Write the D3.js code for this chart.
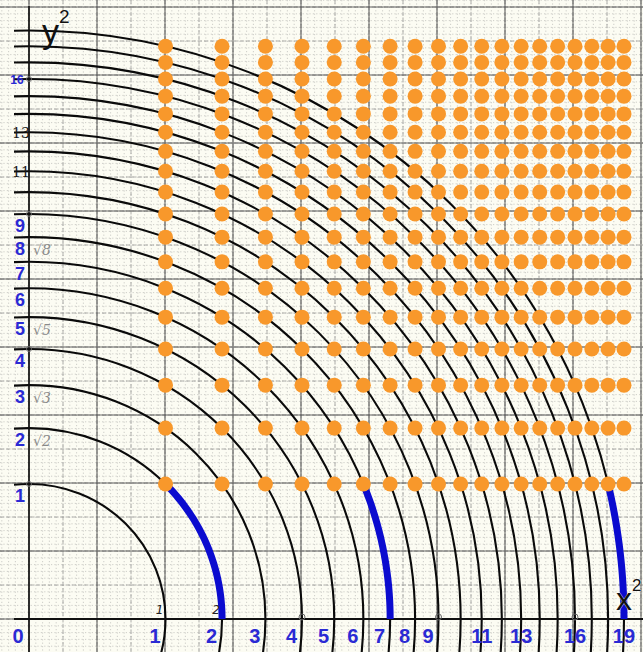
<!DOCTYPE html>
<html>
<head>
<meta charset="utf-8">
<script src="https://cdn.jsdelivr.net/npm/d3@7/dist/d3.min.js"></script>
<style>
  html, body { margin: 0; padding: 0; background: #fff; }
  svg { display: block; }
</style>
</head>
<body>
<svg id="chart" width="643" height="652"></svg>
<script>
// Squared coordinates of the lattice points: x² = 1..19, y² = 1..18
const xSquares = [1, 2, 3, 4, 5, 6, 7, 8, 9, 10, 11, 12, 13, 14, 15, 16, 17, 18, 19];
const ySquares = [1, 2, 3, 4, 5, 6, 7, 8, 9, 10, 11, 12, 13, 14, 15, 16, 17, 18];
// Level curves x² + y² = k
const circleLevels = [1, 2, 3, 4, 5, 6, 7, 8, 9, 10, 11, 12, 13, 14, 15, 16, 17, 18, 19];
// Highlighted arcs: from (x² = k-1, y² = 1) down to (x² = k, y² = 0)
const highlightLevels = [2, 7, 19];
// Axis labels
const xTickLabels = [0, 1, 2, 3, 4, 5, 6, 7, 8, 9, 11, 13, 16, 19];
const yTickLabels = [1, 2, 3, 4, 5, 6, 7, 8, 9];
const yHandLabels = [11, 13];
const ySmallLabels = [16];
const rootNotes = ["√8", "√5", "√3", "√2"];
const rootNoteValues = [8, 5, 3, 2];
const perfectSquares = [1, 4, 9, 16];

const W = 643, H = 652;
const svg = d3.select("#chart");

// Positions grow with the square root of the squared coordinate
const x = d3.scalePow().exponent(0.5).domain([0, 1]).range([29, 165.5]);
const y = d3.scalePow().exponent(0.5).domain([0, 1]).range([619, 484]);
const x0 = x(0), y0 = y(0);

// Paper
svg.append("rect").attr("width", W).attr("height", H).attr("fill", "#fcfcf3");

// Graph-paper grid anchored at the origin
const grid = svg.append("g");
function gridLines(step, style) {
  const xs = d3.range(Math.ceil(-x0 / step), Math.floor((W - x0) / step) + 1).map(i => x0 + i * step);
  const ys = d3.range(Math.ceil((y0 - H) / step), Math.floor(y0 / step) + 1).map(i => y0 - i * step);
  const g = grid.append("g").attr("stroke", style.color).attr("stroke-width", style.width)
    .attr("stroke-dasharray", style.dash || null).attr("opacity", style.opacity || 1);
  g.selectAll("line.v").data(xs).join("line").attr("class", "v")
    .attr("x1", d => d).attr("x2", d => d).attr("y1", 0).attr("y2", H);
  g.selectAll("line.h").data(ys).join("line").attr("class", "h")
    .attr("y1", d => d).attr("y2", d => d).attr("x1", 0).attr("x2", W);
}
gridLines(6.8, { color: "#8c8c8c", width: 0.8, dash: "1.2,2.2", opacity: 0.5 });
gridLines(34, { color: "#7a7a7a", width: 0.9, dash: "4,2", opacity: 0.65 });
gridLines(68, { color: "#4a4a4a", width: 1.1, opacity: 0.8 });

// Level curves
svg.append("clipPath").attr("id", "plotClip")
  .append("rect").attr("x", 14).attr("y", 0).attr("width", W - 14).attr("height", H);
svg.append("g").attr("clip-path", "url(#plotClip)")
  .selectAll("ellipse").data(circleLevels).join("ellipse")
  .attr("cx", x0).attr("cy", y0)
  .attr("rx", k => x(k) - x0).attr("ry", k => y0 - y(k))
  .attr("fill", "none").attr("stroke", "#0a0a0a").attr("stroke-width", 2.1);

// Axes
svg.append("line").attr("x1", 14).attr("x2", W).attr("y1", y0).attr("y2", y0)
  .attr("stroke", "#111").attr("stroke-width", 2);
svg.append("line").attr("x1", x0).attr("x2", x0).attr("y1", 6).attr("y2", H)
  .attr("stroke", "#111").attr("stroke-width", 1.6);

// Marks at the perfect squares on both axes
const marks = svg.append("g").attr("fill", "none").attr("stroke", "#666").attr("stroke-width", 1);
marks.selectAll("circle.mx").data(perfectSquares.slice(1)).join("circle").attr("class", "mx")
  .attr("cx", d => x(d)).attr("cy", y0 - 2).attr("r", 3);
marks.selectAll("circle.my").data(perfectSquares).join("circle").attr("class", "my")
  .attr("cx", x0).attr("cy", d => y(d)).attr("r", 2.5);

// Highlighted arcs along x² + y² = k
const arcLine = d3.line().x(p => x(p[0])).y(p => y(p[1]));
svg.append("g").selectAll("path").data(highlightLevels).join("path")
  .attr("d", k => {
    const t0 = Math.atan2(1, Math.sqrt(k - 1));
    const pts = d3.range(0, 41).map(i => {
      const t = t0 * (1 - i / 40);
      return [k * Math.cos(t) ** 2, k * Math.sin(t) ** 2];
    });
    return arcLine(pts);
  })
  .attr("fill", "none").attr("stroke", "#0b0bcf").attr("stroke-width", 7);

// Lattice points
const points = [];
xSquares.forEach(a => ySquares.forEach(b => points.push([a, b])));
svg.append("g").selectAll("circle").data(points).join("circle")
  .attr("cx", d => x(d[0])).attr("cy", d => y(d[1])).attr("r", 7.5)
  .attr("fill", "#f8982b");

// X axis labels
svg.append("g").attr("font-family", "Liberation Sans, Arial, sans-serif")
  .attr("font-weight", "bold").attr("font-size", 20).attr("fill", "#2a2ad4")
  .selectAll("text").data(xTickLabels).join("text")
  .attr("x", d => d === 0 ? x(d) - 11 : (d < 10 ? x(d) - 5 : x(d)))
  .attr("y", 643)
  .attr("text-anchor", d => d === 0 ? "middle" : (d < 10 ? "end" : "middle"))
  .text(d => d);

// Y axis labels
svg.append("g").attr("font-family", "Liberation Sans, Arial, sans-serif")
  .attr("font-weight", "bold").attr("font-size", 18).attr("fill", "#2a2ad4")
  .selectAll("text").data(yTickLabels).join("text")
  .attr("x", 20).attr("y", d => y(d) + 18).attr("text-anchor", "middle").text(d => d);
svg.append("g").attr("font-family", "Liberation Sans, Arial, sans-serif")
  .attr("font-weight", "bold").attr("font-size", 12).attr("fill", "#2a2ad4")
  .selectAll("text").data(ySmallLabels).join("text")
  .attr("x", 17).attr("y", d => y(d) + 4.5).attr("text-anchor", "middle").text(d => d);
svg.append("g").attr("font-family", "DejaVu Serif, serif")
  .attr("font-size", 14).attr("fill", "#1a1a1a")
  .selectAll("text").data(yHandLabels).join("text")
  .attr("x", 21).attr("y", d => y(d) + 6).attr("text-anchor", "middle").text(d => d);

// Handwritten root notes beside the y labels
svg.append("g").attr("font-family", "DejaVu Serif, serif").attr("font-style", "italic")
  .attr("font-size", 14).attr("fill", "#8a8a8a")
  .selectAll("text").data(rootNotes).join("text")
  .attr("x", 42).attr("y", (d, i) => y(rootNoteValues[i]) + 18)
  .attr("text-anchor", "middle").text(d => d);

// Handwritten level numbers at the axis
svg.append("g").attr("font-family", "DejaVu Sans, sans-serif").attr("font-style", "italic")
  .attr("font-size", 12).attr("fill", "#222")
  .selectAll("text").data([1, 2]).join("text")
  .attr("x", d => x(d) - 6).attr("y", y0 - 5).attr("text-anchor", "middle").text(d => d);

// Axis titles
const yTitle = svg.append("text").attr("x", 42).attr("y", 43)
  .attr("font-family", "Liberation Sans, Arial, sans-serif").attr("font-size", 34).attr("fill", "#111");
yTitle.append("tspan").text("y");
yTitle.append("tspan").attr("font-size", 19).attr("dy", -20).text("2");

const xTitle = svg.append("text").attr("x", 616).attr("y", 610)
  .attr("font-family", "Liberation Sans, Arial, sans-serif").attr("font-size", 32).attr("fill", "#111")
  .attr("stroke", "#fff").attr("stroke-width", 0.6).attr("paint-order", "stroke");
xTitle.append("tspan").text("x");
xTitle.append("tspan").attr("font-size", 17).attr("dy", -19).text("2");
</script>
</body>
</html>
